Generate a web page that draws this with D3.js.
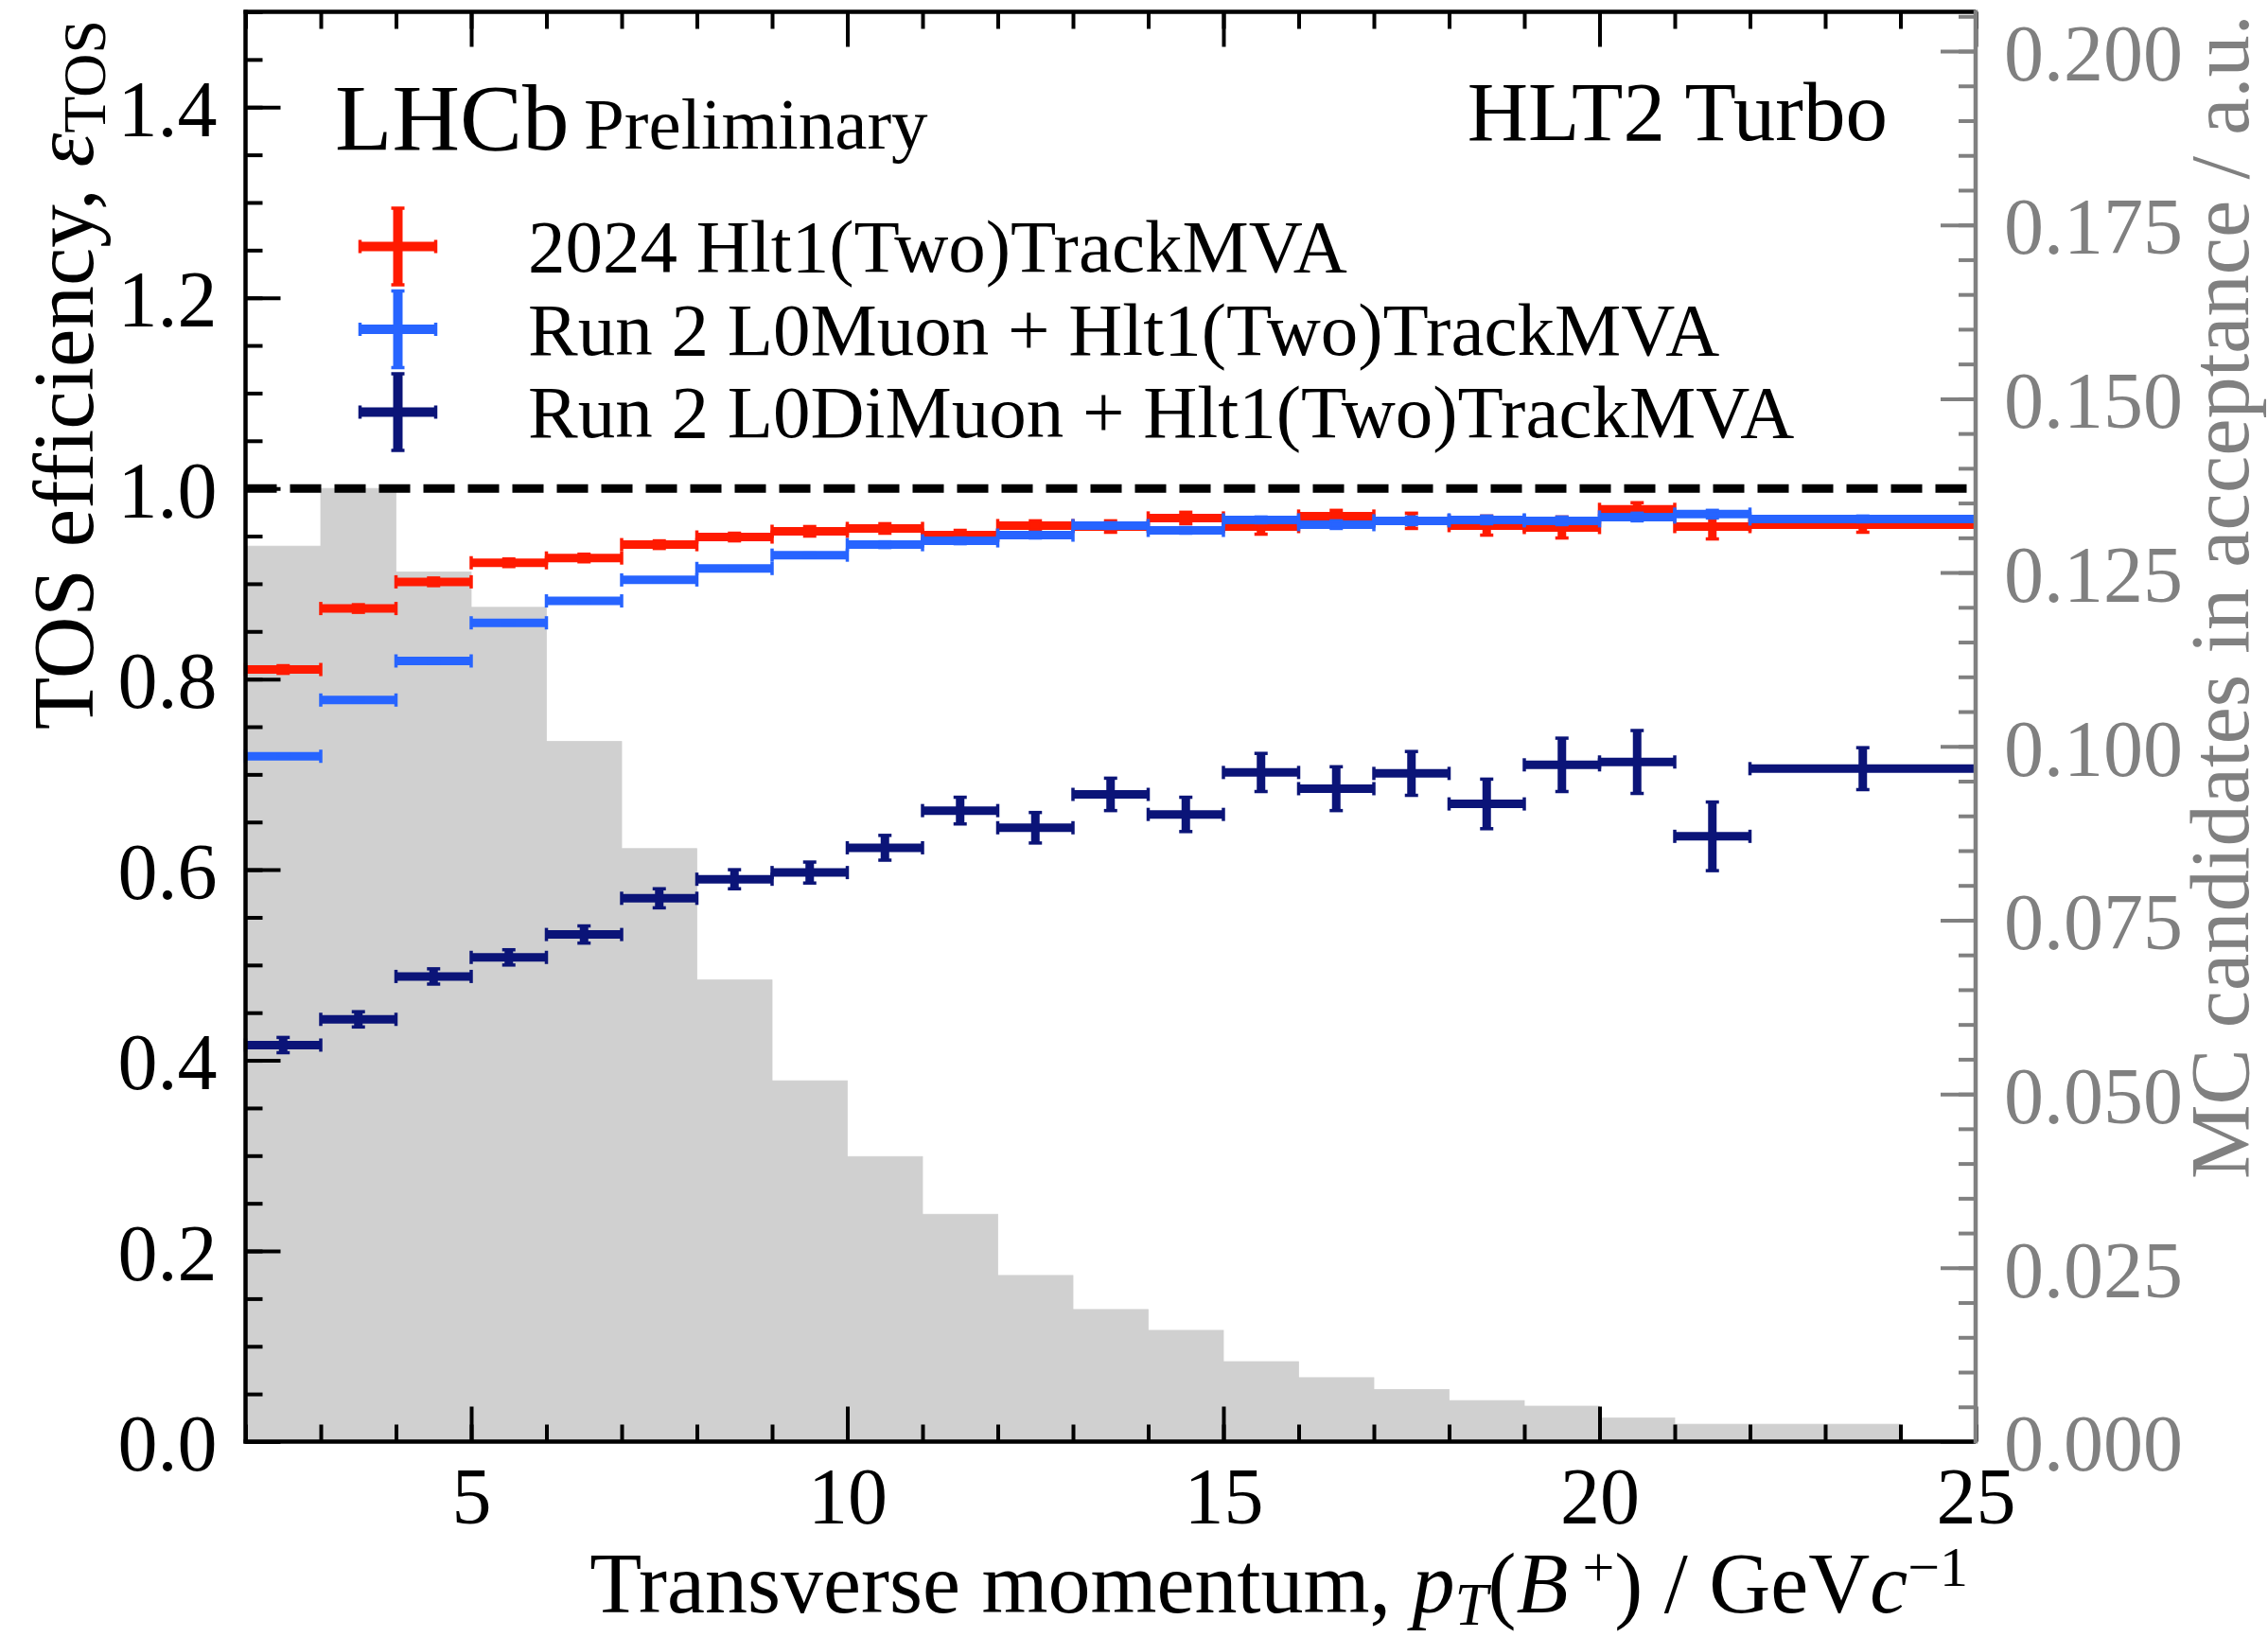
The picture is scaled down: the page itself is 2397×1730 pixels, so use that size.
<!DOCTYPE html>
<html>
<head>
<meta charset="utf-8">
<script src="https://cdn.jsdelivr.net/npm/d3@7.9.0/dist/d3.min.js"></script>
<style>
  body { margin: 0; background: #fff; }
  svg { display: block; font-family: "Liberation Serif", "DejaVu Serif", serif; }
</style>
</head>
<body>
<svg id="chart" width="2397" height="1730"></svg>
<script>
// bin edges of the efficiency points (GeV/c)
const binEdges = [2, 3, 4, 5, 6, 7, 8, 9, 10, 11, 12, 13, 14, 15, 16, 17, 18, 19, 20, 21, 22, 25];

// 2024 Hlt1(Two)TrackMVA
const eff2024 = [0.810, 0.874, 0.902, 0.922, 0.927, 0.941, 0.949, 0.955, 0.958, 0.951, 0.961,
                 0.960, 0.969, 0.960, 0.971, 0.966, 0.961, 0.959, 0.978, 0.960, 0.962];
const err2024 = [0.004, 0.004, 0.004, 0.004, 0.004, 0.004, 0.004, 0.005, 0.005, 0.005, 0.005,
                 0.006, 0.006, 0.008, 0.006, 0.008, 0.010, 0.011, 0.007, 0.013, 0.008];

// Run 2 L0Muon + Hlt1(Two)TrackMVA
const effL0Muon = [0.719, 0.778, 0.819, 0.859, 0.882, 0.904, 0.916, 0.930, 0.941, 0.945, 0.951,
                   0.961, 0.956, 0.967, 0.962, 0.966, 0.967, 0.966, 0.970, 0.973, 0.968];
const errL0Muon = [0.002, 0.002, 0.002, 0.002, 0.002, 0.002, 0.002, 0.002, 0.003, 0.003, 0.003,
                   0.003, 0.003, 0.003, 0.004, 0.004, 0.004, 0.004, 0.004, 0.004, 0.003];

// Run 2 L0DiMuon + Hlt1(Two)TrackMVA
const effL0DiMuon = [0.416, 0.443, 0.488, 0.508, 0.532, 0.570, 0.590, 0.597, 0.623, 0.662, 0.644,
                     0.679, 0.658, 0.702, 0.685, 0.701, 0.669, 0.710, 0.713, 0.635, 0.706];
const errL0DiMuon = [0.008, 0.008, 0.008, 0.008, 0.009, 0.010, 0.010, 0.011, 0.013, 0.014, 0.016,
                     0.017, 0.018, 0.020, 0.023, 0.023, 0.026, 0.028, 0.033, 0.036, 0.022];

// MC pT spectrum (right axis)
const histEdges = [2, 3, 4, 5, 6, 7, 8, 9, 10, 11, 12, 13, 14, 15, 16, 17, 18, 19, 20, 21, 22, 23, 24];
const histValues = [0.1288, 0.1371, 0.1251, 0.1200, 0.1007, 0.0853, 0.0664, 0.0519, 0.0410, 0.0327, 0.0239,
                    0.0190, 0.0160, 0.0115, 0.0092, 0.0075, 0.0059, 0.0051, 0.0034, 0.0025, 0.0025, 0.0025];

const xTicks = [5, 10, 15, 20, 25];
const yTicks = [0, 0.2, 0.4, 0.6, 0.8, 1.0, 1.2, 1.4];
const yRightTicks = [0, 0.025, 0.05, 0.075, 0.1, 0.125, 0.15, 0.175, 0.2];

const series = [
  { label: "2024 Hlt1(Two)TrackMVA", color: "#ff1a00", eff: eff2024, err: err2024 },
  { label: "Run 2 L0Muon + Hlt1(Two)TrackMVA", color: "#2764ff", eff: effL0Muon, err: errL0Muon },
  { label: "Run 2 L0DiMuon + Hlt1(Two)TrackMVA", color: "#0b1478", eff: effL0DiMuon, err: errL0DiMuon }
];

const svg = d3.select("#chart");
const pLeft = 259.5, pRight = 2088, pTop = 12.5, pBottom = 1523.5;
const grey = "#808080";
const fontFam = '"Liberation Serif", "DejaVu Serif", serif';

const x = d3.scaleLinear().domain([2, 25]).range([pLeft, pRight]);
const y = d3.scaleLinear().domain([0, 1.5]).range([pBottom, pTop]);
const yR = d3.scaleLinear().domain([0, 1.5 * d3.max(histValues)]).range([pBottom, pTop]);

// histogram in the back
svg.append("g")
  .selectAll("rect")
  .data(histValues)
  .join("rect")
  .attr("x", (d, i) => x(histEdges[i]))
  .attr("width", (d, i) => x(histEdges[i + 1]) - x(histEdges[i]))
  .attr("y", d => yR(d))
  .attr("height", d => pBottom - yR(d))
  .attr("fill", "#d0d0d0")
  .attr("stroke", "#d0d0d0")
  .attr("stroke-width", 0.8);

// axes (ticks point inwards)
function addAxis(axis, transform, color, labels) {
  const g = svg.append("g").attr("transform", transform).call(axis);
  g.select(".domain").remove();
  g.selectAll("line").attr("stroke", color).attr("stroke-width", 4);
  g.attr("font-family", fontFam).attr("font-size", 84);
  g.selectAll("text").attr("fill", color);
  if (!labels) g.selectAll("text").remove();
  return g;
}

addAxis(d3.axisBottom(x).tickValues(d3.range(2, 25.5, 1)).tickSize(-18).tickSizeOuter(0), `translate(0,${pBottom})`, "#000", false);
addAxis(d3.axisBottom(x).tickValues(xTicks).tickSize(-37).tickSizeOuter(0).tickPadding(27), `translate(0,${pBottom})`, "#000", true);
addAxis(d3.axisTop(x).tickValues(d3.range(2, 25.5, 1)).tickSize(-18).tickSizeOuter(0), `translate(0,${pTop})`, "#000", false);
addAxis(d3.axisTop(x).tickValues(xTicks).tickSize(-37).tickSizeOuter(0), `translate(0,${pTop})`, "#000", false);

addAxis(d3.axisLeft(y).tickValues(d3.range(0, 1.501, 0.05)).tickSize(-18).tickSizeOuter(0), `translate(${pLeft},0)`, "#000", false);
addAxis(d3.axisLeft(y).tickValues(yTicks).tickFormat(d3.format(".1f")).tickSize(-37).tickSizeOuter(0).tickPadding(30),
  `translate(${pLeft},0)`, "#000", true).selectAll("text").attr("dy", "0.36em");

addAxis(d3.axisRight(yR).tickValues(d3.range(0, yR.domain()[1], 0.005)).tickSize(-18).tickSizeOuter(0), `translate(${pRight},0)`, grey, false);
addAxis(d3.axisRight(yR).tickValues(yRightTicks).tickFormat(d3.format(".3f")).tickSize(-37).tickSizeOuter(0).tickPadding(30),
  `translate(${pRight},0)`, grey, true).selectAll("text").attr("dy", "0.36em");

// reference line at 1
svg.append("line")
  .attr("x1", pLeft).attr("x2", pRight)
  .attr("y1", y(1)).attr("y2", y(1))
  .attr("stroke", "#000").attr("stroke-width", 9)
  .attr("stroke-dasharray", "33,14");

// error bars
const capHalf = 7, barW = 9, capW = 3.5;
function drawErrorbars(s) {
  const pts = s.eff.map((v, i) => ({ x0: binEdges[i], x1: binEdges[i + 1], v: v, e: s.err[i] }));
  const g = svg.append("g").attr("stroke", s.color);
  g.selectAll(".hbar").data(pts).join("line").attr("class", "hbar")
    .attr("x1", d => x(d.x0)).attr("x2", d => x(d.x1))
    .attr("y1", d => y(d.v)).attr("y2", d => y(d.v))
    .attr("stroke-width", barW);
  g.selectAll(".vbar").data(pts).join("line").attr("class", "vbar")
    .attr("x1", d => x((d.x0 + d.x1) / 2)).attr("x2", d => x((d.x0 + d.x1) / 2))
    .attr("y1", d => y(d.v - d.e)).attr("y2", d => y(d.v + d.e))
    .attr("stroke-width", barW);
  // caps on the x error
  g.selectAll(".xcap").data(pts.flatMap(d => [[d.x0, d.v], [d.x1, d.v]])).join("line").attr("class", "xcap")
    .attr("x1", d => x(d[0])).attr("x2", d => x(d[0]))
    .attr("y1", d => y(d[1]) - capHalf).attr("y2", d => y(d[1]) + capHalf)
    .attr("stroke-width", capW);
  // caps on the y error
  g.selectAll(".ycap").data(pts.flatMap(d => [[(d.x0 + d.x1) / 2, d.v - d.e], [(d.x0 + d.x1) / 2, d.v + d.e]])).join("line").attr("class", "ycap")
    .attr("x1", d => x(d[0]) - capHalf).attr("x2", d => x(d[0]) + capHalf)
    .attr("y1", d => y(d[1])).attr("y2", d => y(d[1]))
    .attr("stroke-width", capW);
}
series.forEach(drawErrorbars);

// frame
svg.append("line").attr("x1", pLeft).attr("x2", pLeft).attr("y1", pTop - 2).attr("y2", pBottom + 2).attr("stroke", "#000").attr("stroke-width", 4.5);
svg.append("line").attr("x1", pLeft - 2).attr("x2", pRight).attr("y1", pBottom).attr("y2", pBottom).attr("stroke", "#000").attr("stroke-width", 4.5);
svg.append("line").attr("x1", pLeft - 2).attr("x2", pRight).attr("y1", pTop).attr("y2", pTop).attr("stroke", "#000").attr("stroke-width", 4.5);
svg.append("line").attr("x1", pRight).attr("x2", pRight).attr("y1", pTop - 2).attr("y2", pBottom + 2).attr("stroke", grey).attr("stroke-width", 4.5);

// legend
const legend = svg.append("g");
series.forEach((s, i) => {
  const cy = 260.5 + i * 87.5, cx = 420.5;
  const g = legend.append("g").attr("stroke", s.color);
  g.append("line").attr("x1", cx - 40).attr("x2", cx + 40).attr("y1", cy).attr("y2", cy).attr("stroke-width", barW + 1);
  g.append("line").attr("x1", cx).attr("x2", cx).attr("y1", cy - 40.5).attr("y2", cy + 40.5).attr("stroke-width", barW + 1);
  [cx - 40, cx + 40].forEach(px => g.append("line").attr("x1", px).attr("x2", px).attr("y1", cy - capHalf).attr("y2", cy + capHalf).attr("stroke-width", capW));
  [cy - 40.5, cy + 40.5].forEach(py => g.append("line").attr("x1", cx - capHalf).attr("x2", cx + capHalf).attr("y1", py).attr("y2", py).attr("stroke-width", capW));
  legend.append("text").attr("x", 558).attr("y", cy + 26.5)
    .attr("font-size", 79).attr("fill", "#000").text(s.label);
});

// labels
svg.append("text").attr("x", 354).attr("y", 158).attr("font-size", 99).text("LHCb");
svg.append("text").attr("x", 617).attr("y", 157).attr("font-size", 77).text("Preliminary");
svg.append("text").attr("x", 1995).attr("y", 148).attr("font-size", 89).attr("text-anchor", "end").text("HLT2 Turbo");

const yLab = svg.append("text")
  .attr("transform", "translate(98,21) rotate(-90)")
  .attr("text-anchor", "end").attr("font-size", 91);
yLab.append("tspan").text("TOS efficiency, ");
yLab.append("tspan").attr("font-style", "italic").text("ε");
yLab.append("tspan").attr("font-size", 64).attr("dy", 13).text("TOS");

const xLab = svg.append("text")
  .attr("x", 2080).attr("y", 1704)
  .attr("text-anchor", "end").attr("font-size", 90);
xLab.append("tspan").text("Transverse momentum, ");
xLab.append("tspan").attr("font-style", "italic").text("p");
xLab.append("tspan").attr("font-style", "italic").attr("font-size", 63).attr("dy", 13).text("T");
xLab.append("tspan").attr("dy", -13).text("(");
xLab.append("tspan").attr("font-style", "italic").text("B");
xLab.append("tspan").attr("font-size", 60).attr("dy", -28).text(" +");
xLab.append("tspan").attr("dy", 28).text(") / GeV");
xLab.append("tspan").attr("font-style", "italic").text("c");
xLab.append("tspan").attr("font-size", 60).attr("dy", -28).text("−1");

svg.append("text")
  .attr("transform", "translate(2376,15) rotate(-90)")
  .attr("text-anchor", "end").attr("font-size", 88.5).attr("fill", grey)
  .text("MC candidates in acceptance / a.u.");
</script>
</body>
</html>
